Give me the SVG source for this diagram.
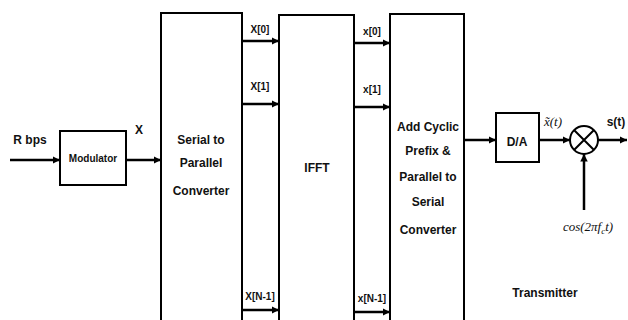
<svg xmlns="http://www.w3.org/2000/svg" width="628" height="320" viewBox="0 0 628 320">
<style>
.box{fill:#fff;stroke:#000;stroke-width:2}
.ln{stroke:#000;stroke-width:2.5;fill:none}
.t{font-family:"Liberation Sans",Arial,sans-serif;font-weight:bold;font-size:12px;fill:#111;text-anchor:middle}
.s{font-family:"Liberation Sans",Arial,sans-serif;font-weight:bold;font-size:10px;fill:#111;text-anchor:middle}
.m{font-family:"Liberation Serif","Times New Roman",serif;font-style:italic;font-size:13px;fill:#111;text-anchor:middle}
</style>
<defs>
<marker id="ah" viewBox="0 0 10 10" refX="10" refY="5" markerWidth="3" markerHeight="3" orient="auto" markerUnits="strokeWidth">
<path d="M0,0 L10,5 L0,10 z" fill="#000"/>
</marker>
</defs>
<rect width="628" height="320" fill="#fff"/>
<g id="modulator"><rect class="box" x="60" y="131" width="66" height="54"/><text class="s" x="93" y="162" font-size="8.5">Modulator</text></g>
<g id="sp"><rect class="box" x="161" y="13" width="81" height="320"/><text class="t" x="201" y="144">Serial to</text><text class="t" x="201" y="167">Parallel</text><text class="t" x="201" y="195">Converter</text></g>
<g id="ifft"><rect class="box" x="279" y="15" width="75" height="320"/><text class="t" x="317" y="172">IFFT</text></g>
<g id="addcp"><rect class="box" x="390" y="14" width="74" height="320"/><text class="t" x="428" y="131">Add Cyclic</text><text class="t" x="428" y="155">Prefix &amp;</text><text class="t" x="428" y="181">Parallel to</text><text class="t" x="428" y="206">Serial</text><text class="t" x="428" y="234">Converter</text></g>
<g id="da"><rect class="box" x="496" y="113" width="43" height="49"/><text class="t" x="517" y="146">D/A</text></g>
<g id="mixer"><circle cx="584" cy="140" r="14" fill="#fff" stroke="#000" stroke-width="2"/><path d="M574,130 L594,150 M594,130 L574,150" stroke="#000" stroke-width="2"/></g>
<g id="connectors">
<line class="ln" x1="10" y1="160" x2="60" y2="160" marker-end="url(#ah)"/>
<line class="ln" x1="126" y1="160" x2="161" y2="160" marker-end="url(#ah)"/>
<line class="ln" x1="242" y1="41" x2="279" y2="41" marker-end="url(#ah)"/>
<line class="ln" x1="242" y1="104" x2="279" y2="104" marker-end="url(#ah)"/>
<line class="ln" x1="242" y1="310" x2="279" y2="310" marker-end="url(#ah)"/>
<line class="ln" x1="354" y1="43" x2="390" y2="43" marker-end="url(#ah)"/>
<line class="ln" x1="354" y1="107" x2="390" y2="107" marker-end="url(#ah)"/>
<line class="ln" x1="354" y1="312" x2="390" y2="312" marker-end="url(#ah)"/>
<line class="ln" x1="464" y1="140" x2="496" y2="140" marker-end="url(#ah)"/>
<line class="ln" x1="539" y1="140" x2="570" y2="140" marker-end="url(#ah)"/>
<line class="ln" x1="598" y1="140" x2="627" y2="140" marker-end="url(#ah)"/>
<line class="ln" x1="584" y1="210" x2="584" y2="154" marker-end="url(#ah)"/>
</g>
<g id="labels">
<text class="t" x="30" y="144">R bps</text>
<text class="t" x="139" y="134">X</text>
<text class="s" x="260" y="33">X[0]</text>
<text class="s" x="260" y="90">X[1]</text>
<text class="s" x="260" y="300">X[N-1]</text>
<text class="s" x="372" y="35">x[0]</text>
<text class="s" x="372" y="93">x[1]</text>
<text class="s" x="372" y="302">x[N-1]</text>
<text class="m" x="553" y="126">x̃(t)</text>
<text class="t" x="616" y="126">s(t)</text>
<text class="m" x="588" y="231" font-size="14">cos(2πf<tspan font-size="9" dy="3">c</tspan><tspan dy="-3">t)</tspan></text>
<text class="t" x="545" y="297">Transmitter</text>
</g>
</svg>
